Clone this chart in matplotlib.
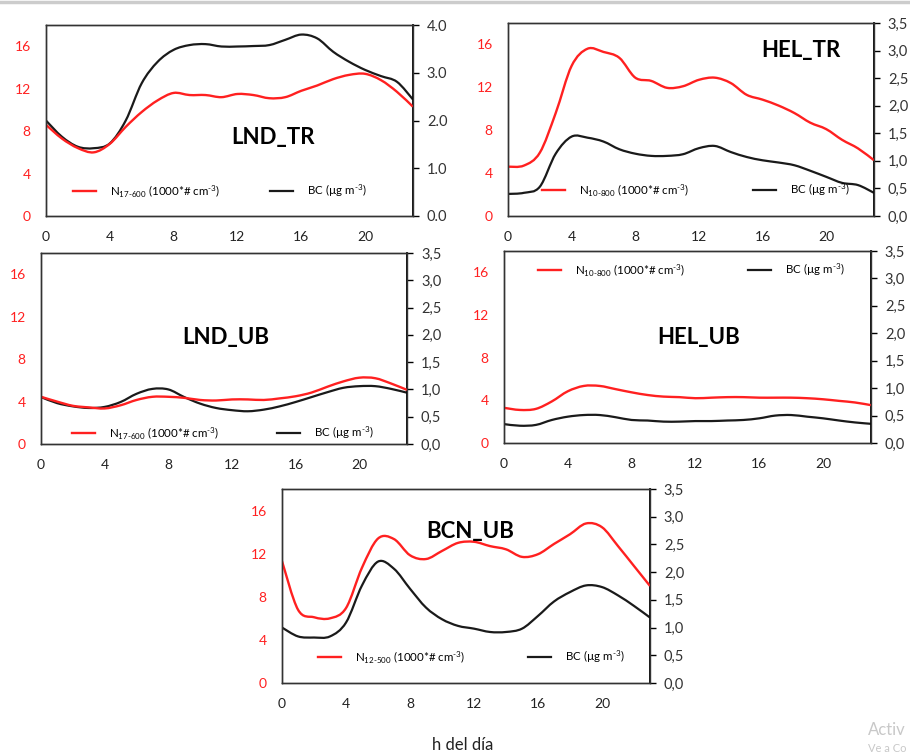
import numpy as np
import matplotlib
matplotlib.use("Agg")
import matplotlib.pyplot as plt
from matplotlib.lines import Line2D
from matplotlib.path import Path
from matplotlib.patches import PathPatch
from matplotlib.ticker import FuncFormatter

plt.rcParams['font.family'] = ['Lato', 'DejaVu Sans']
plt.rcParams['mathtext.fontset'] = 'custom'
plt.rcParams['mathtext.rm'] = 'Lato'
plt.rcParams['mathtext.it'] = 'Lato'

hours = np.arange(24)

# particle number (1000 # cm-3), left axis
n_lnd_tr = [8.6, 7.3, 6.4, 6.0, 6.8, 8.4, 9.8, 10.9, 11.6, 11.4, 11.4, 11.2,
            11.5, 11.4, 11.1, 11.2, 11.8, 12.3, 12.9, 13.3, 13.4, 12.8, 11.7, 10.3]
n_hel_tr = [4.6, 4.7, 5.9, 9.6, 14.0, 15.6, 15.3, 14.75, 12.9, 12.6, 11.95, 12.1,
            12.7, 12.9, 12.4, 11.3, 10.85, 10.3, 9.6, 8.7, 8.1, 7.1, 6.3, 5.2]
n_lnd_ub = [4.45, 4.0, 3.6, 3.45, 3.35, 3.65, 4.15, 4.45, 4.45, 4.35, 4.15, 4.1,
            4.2, 4.2, 4.15, 4.3, 4.5, 4.85, 5.4, 5.9, 6.25, 6.2, 5.7, 5.1]
n_hel_ub = [3.3, 3.1, 3.2, 3.9, 4.85, 5.35, 5.35, 5.05, 4.75, 4.5, 4.35, 4.3,
            4.2, 4.25, 4.3, 4.3, 4.25, 4.25, 4.25, 4.2, 4.1, 3.95, 3.8, 3.55]
n_bcn_ub = [11.3, 6.8, 6.1, 6.0, 6.95, 10.7, 13.4, 13.35, 11.85, 11.5, 12.25, 13.0,
            13.1, 12.7, 12.4, 11.7, 11.95, 12.9, 13.8, 14.8, 14.45, 12.7, 10.85, 9.0]

# black carbon (ug m-3), right axis
bc_lnd_tr = [2.0, 1.66, 1.45, 1.42, 1.52, 2.0, 2.78, 3.23, 3.48, 3.58, 3.6, 3.55,
             3.55, 3.56, 3.58, 3.69, 3.8, 3.72, 3.44, 3.23, 3.06, 2.93, 2.81, 2.44]
bc_hel_tr = [0.40, 0.42, 0.53, 1.13, 1.44, 1.42, 1.35, 1.21, 1.13, 1.09, 1.09, 1.12,
             1.23, 1.27, 1.16, 1.07, 1.01, 0.97, 0.92, 0.82, 0.71, 0.60, 0.56, 0.42]
bc_lnd_ub = [0.86, 0.75, 0.69, 0.66, 0.68, 0.77, 0.92, 1.01, 1.0, 0.86, 0.74, 0.66,
             0.62, 0.60, 0.63, 0.69, 0.77, 0.86, 0.95, 1.03, 1.06, 1.06, 1.01, 0.94]
bc_hel_ub = [0.345, 0.315, 0.33, 0.42, 0.48, 0.51, 0.51, 0.47, 0.42, 0.41, 0.39, 0.39,
             0.40, 0.40, 0.41, 0.42, 0.45, 0.50, 0.51, 0.48, 0.45, 0.41, 0.375, 0.35]
bc_bcn_ub = [1.0, 0.84, 0.82, 0.84, 1.09, 1.76, 2.19, 2.06, 1.70, 1.36, 1.15, 1.03,
             0.98, 0.92, 0.92, 0.98, 1.21, 1.47, 1.64, 1.76, 1.73, 1.58, 1.39, 1.18]

RED = '#ff2020'
BLACK = '#1a1a1a'
LEG_SIZE = 8.3


def smooth_line(ax, x, y, color, lw=1.6):
    # spreadsheet-style smoothed line: cubic Bezier segments through every point
    p = np.column_stack([x, y]).astype(float)
    ext = np.vstack([p[0], p, p[-1]])
    verts = [p[0]]
    codes = [Path.MOVETO]
    for i in range(len(p) - 1):
        p0, p1, p2, p3 = ext[i], ext[i + 1], ext[i + 2], ext[i + 3]
        verts += [p1 + (p2 - p0) / 6, p2 - (p3 - p1) / 6, p2]
        codes += [Path.CURVE4] * 3
    ax.add_patch(PathPatch(Path(verts, codes), fill=False, edgecolor=color,
                           lw=lw, joinstyle='round', capstyle='butt'))


panels = [
    # name, N, BC, size range, rect, title pos, legend (x, y, gap px), right ymax, right step, decimal sep
    ("LND_TR", n_lnd_tr, bc_lnd_tr, "17-600", [0.0505, 0.7143, 0.4033, 0.2526], (0.62, 0.41), (0.074, 0.13, 50), 4.0, 1.0, "."),
    ("HEL_TR", n_hel_tr, bc_hel_tr, "10-800", [0.5582, 0.7143, 0.4022, 0.2553], (0.80, 0.86), (0.093, 0.135, 64), 3.5, 0.5, ","),
    ("LND_UB", n_lnd_ub, bc_lnd_ub, "17-600", [0.0451, 0.4127, 0.4022, 0.2526], (0.505, 0.56), (0.085, 0.058, 58), 3.5, 0.5, ","),
    ("HEL_UB", n_hel_ub, bc_hel_ub, "10-800", [0.5538, 0.4140, 0.4033, 0.2540], (0.53, 0.55), (0.093, 0.90, 63), 3.5, 0.5, ","),
    ("BCN_UB", n_bcn_ub, bc_bcn_ub, "12-500", [0.3099, 0.0966, 0.4044, 0.2566], (0.51, 0.78), (0.098, 0.134, 63), 3.5, 0.5, ","),
]

fig = plt.figure(figsize=(9.1, 7.56), dpi=100)

for name, n, bc, rng, rect, tpos, leg, rmax, rstep, sep in panels:
    ax = fig.add_axes(rect)
    ax2 = ax.twinx()
    smooth_line(ax, hours, n, RED, lw=1.7)
    smooth_line(ax2, hours, bc, BLACK, lw=1.6)

    ax.set_xlim(0, 23)
    ax.set_ylim(0, 18)
    ax.set_yticks([0, 4, 8, 12, 16])
    ax.set_xticks([0, 4, 8, 12, 16, 20])
    ax.tick_params(axis='y', length=0, pad=11, labelsize=10, labelcolor=RED)
    ax.tick_params(axis='x', length=0, pad=11, labelsize=10, labelcolor='#222222')

    ax2.set_ylim(0, rmax)
    ax2.set_yticks(np.arange(0, rmax + 0.01, rstep))
    fmt = (lambda v, p, s=sep: f"{v:.1f}".replace(".", s))
    ax2.yaxis.set_major_formatter(FuncFormatter(fmt))
    ax2.tick_params(axis='y', length=4, width=1, pad=6, labelsize=10.5,
                    labelcolor='#333333', direction='out')

    for a in (ax, ax2):
        for s in a.spines.values():
            s.set_color('#333333')
            s.set_linewidth(1.0)
    ax2.spines['right'].set_color('black')
    ax2.spines['right'].set_linewidth(1.3)

    ax.text(tpos[0], tpos[1], name, transform=ax.transAxes, ha='center', va='center',
            fontsize=16, fontweight='bold', color='black')

    lx, ly, gap = leg
    handles = [Line2D([], [], color=RED, lw=1.7),
               Line2D([], [], color=BLACK, lw=1.6)]
    labels = [r"N$_{\text{" + rng + r"}}$ (1000*# cm$^{\text{-3}}$)",
              r"BC (µg m$^{\text{-3}}$)"]
    ax.legend(handles, labels, ncol=2, loc='center left', bbox_to_anchor=(lx, ly),
              frameon=False, fontsize=LEG_SIZE, handlelength=2.0, handletextpad=1.2,
              columnspacing=gap / (LEG_SIZE * 100 / 72), borderaxespad=0, borderpad=0)
    ax2.set_zorder(ax.get_zorder() - 1)
    ax.patch.set_visible(False)

fig.text(463 / 910, 1 - 745 / 756, "h del día", ha='center', va='center', fontsize=12, color='#222222')

# thin grey strip along the top edge
fig.add_artist(Line2D([0, 1], [1 - 2 / 756, 1 - 2 / 756], color='#cccccc', lw=2.5, transform=fig.transFigure))

fig.text(868 / 910, 1 - 730 / 756, "Activ", fontsize=12, color='#c8c8c8', va='center')
fig.text(868 / 910, 1 - 749 / 756, "Ve a Co", fontsize=8, color='#c8c8c8', va='center')

fig.savefig("out.png", dpi=100)
